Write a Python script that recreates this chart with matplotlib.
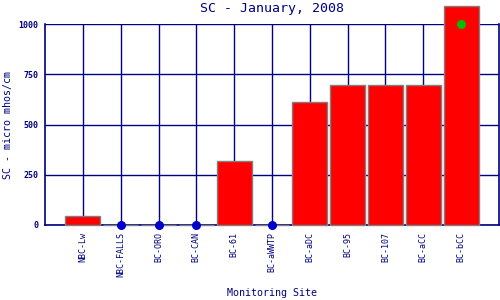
import numpy as np
import matplotlib
matplotlib.use("Agg")
from matplotlib import pyplot as plt

sites = ["NBC-Lw", "NBC-FALLS", "BC-ORO", "BC-CAN", "BC-61", "BC-aWWTP",
         "BC-aDC", "BC-95", "BC-107", "BC-aCC", "BC-bCC"]
sc_values = [45, 0, 0, 0, 318, 0, 612, 697, 697, 697, 1090]
no_data = ["NBC-FALLS", "BC-ORO", "BC-CAN", "BC-aWWTP"]
standard_site = ["BC-bCC"]
standard_value = [1000]

navy = "#000080"
plt.rcParams["font.family"] = ["DejaVu Sans Mono"]

fig = plt.figure(figsize=(5, 3), dpi=100)
ax = fig.add_axes([0.09, 0.25, 0.908, 0.67])

x = np.arange(len(sites))
ax.set_axisbelow(True)
ax.grid(True, color=navy, linewidth=1)
bars = ax.bar(x, sc_values, width=0.92, color="#ff0000",
              edgecolor="#808080", linewidth=1, zorder=3)
for b in bars:
    b.set_clip_on(False)

nd_x = [sites.index(s) for s in no_data]
ax.scatter(nd_x, [0] * len(nd_x), s=30, color="#0000cc", zorder=4, clip_on=False)
st_x = [sites.index(s) for s in standard_site]
ax.scatter(st_x, standard_value, s=30, color="#00c000", zorder=5, clip_on=False)

ax.set_xlim(-1, len(sites))
ax.set_ylim(0, 1000)
ax.set_xticks(x)
ax.set_xticklabels(sites, rotation=90, fontsize=6, color=navy)
ax.set_yticks([0, 250, 500, 750, 1000])
ax.set_yticklabels(["0", "250", "500", "750", "1000"], fontsize=6,
                   color=navy, fontweight="bold")
ax.tick_params(length=0, pad=5)
for sp in ["left", "bottom", "right"]:
    ax.spines[sp].set_color(navy)
    ax.spines[sp].set_linewidth(1.2)
ax.spines["top"].set_visible(False)

fig.text(0.544, 0.973, "SC - January, 2008", fontsize=9.5, color=navy,
         ha="center", va="center")
fig.text(0.016, 0.583, "SC - micro mhos/cm", fontsize=7.2, color=navy,
         rotation=90, ha="center", va="center")
fig.text(0.544, 0.022, "Monitoring Site", fontsize=7.2, color=navy,
         ha="center", va="center")

fig.savefig("out.png", dpi=100)
